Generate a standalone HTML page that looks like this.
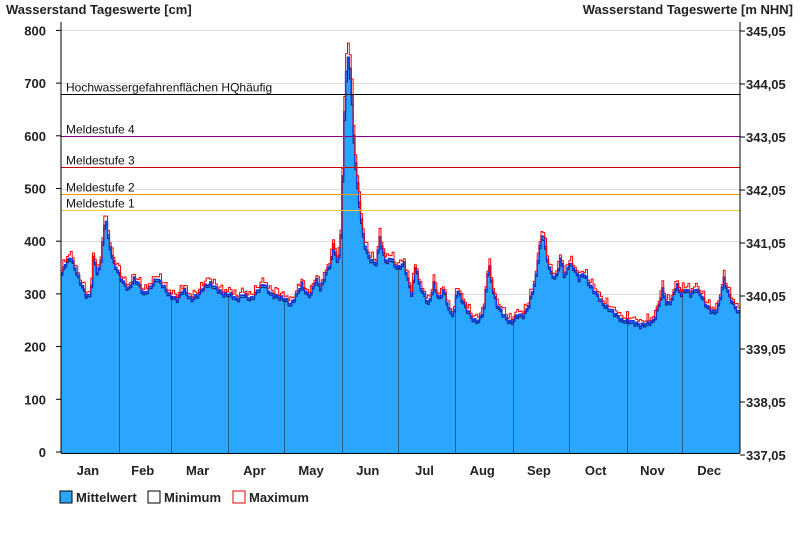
<!DOCTYPE html>
<html><head><meta charset="utf-8"><style>
html,body{margin:0;padding:0;background:#fff;width:800px;height:550px;overflow:hidden}
text{font-family:"Liberation Sans",Arial,sans-serif}
</style></head><body>
<svg id="s" width="800" height="550" xmlns="http://www.w3.org/2000/svg">
<text x="6" y="14" font-size="13" font-weight="bold" fill="#222">Wasserstand Tageswerte [cm]</text>
<text x="793" y="14" font-size="13" font-weight="bold" fill="#222" text-anchor="end">Wasserstand Tageswerte [m NHN]</text>
<g id="grid" stroke="#dcdcdc" stroke-width="1"></g>
<g id="data"></g>
<g id="thr"></g>
<line x1="61" y1="22" x2="61" y2="453" stroke="#000"/>
<line x1="740" y1="22" x2="740" y2="453" stroke="#000"/>
<line x1="61" y1="453.5" x2="740" y2="453.5" stroke="#000"/>
<g id="ax" font-size="13" font-weight="bold" fill="#222"></g>
<rect x="60" y="491" width="12" height="12" fill="#2aa6ff" stroke="#000"/>
<text x="76" y="502" font-size="13" font-weight="bold" fill="#222">Mittelwert</text>
<rect x="148" y="491" width="12" height="12" fill="#fff" stroke="#000"/>
<text x="164" y="502" font-size="13" font-weight="bold" fill="#222">Minimum</text>
<rect x="233" y="491" width="12" height="12" fill="#fff" stroke="#e00"/>
<text x="249" y="502" font-size="13" font-weight="bold" fill="#222">Maximum</text>
</svg>
<script>
var NS="http://www.w3.org/2000/svg";
function el(p,t,a,txt){var e=document.createElementNS(NS,t);for(var k in a)e.setAttribute(k,a[k]);if(txt!=null)e.textContent=txt;document.getElementById(p).appendChild(e);return e;}
function Y(v){return 452-v*0.527;}
for(var v=100;v<=800;v+=100){var yy=Math.round(Y(v))+0.5;el("grid","line",{x1:61,x2:740,y1:yy,y2:yy});}
for(var v=0;v<=800;v+=100){el("ax","text",{x:46,y:Y(v)+5,"text-anchor":"end"},v);el("ax","line",{x1:56,x2:61,y1:Y(v),y2:Y(v),stroke:"#000"});}
var rl=["345,05","344,05","343,05","342,05","341,05","340,05","339,05","338,05","337,05"];
for(var i=0;i<9;i++){var y=31+i*53;el("ax","text",{x:746,y:y+5},rl[i]);el("ax","line",{x1:740,x2:745,y1:y,y2:y,stroke:"#000"});}
var ppd=679/365;var ms=[0,31,59,90,120,151,181,212,243,273,304,334,365];
var mn=["Jan","Feb","Mar","Apr","May","Jun","Jul","Aug","Sep","Oct","Nov","Dec"];
for(var i=0;i<12;i++){var c=61+(ms[i]+ms[i+1])/2*ppd-2;el("ax","text",{x:c,y:475,"text-anchor":"middle","font-size":"13"},mn[i]);}
var kp=[[61,330],[67,360],[72,370],[80,330],[88,295],[92,300],[95,380],[98,340],[101,350],[104,400],[107,450],[110,400],[115,360],[120,340],[125,320],[130,310],[135,330],[140,320],[145,300],[150,310],[158,330],[163,320],[170,300],[178,290],[185,310],[192,290],[200,300],[205,315],[212,320],[218,310],[225,300],[232,300],[238,290],[245,300],[252,290],[260,310],[265,320],[272,300],[280,295],[287,290],[292,280],[298,300],[303,320],[308,300],[312,300],[317,330],[322,310],[327,340],[332,360],[335,400],[338,360],[341,380],[343,450],[345,620],[348,740],[350,750],[352,720],[355,600],[358,520],[362,450],[365,400],[370,370],[375,360],[378,360],[381,410],[384,380],[388,360],[392,370],[396,355],[400,350],[405,360],[410,320],[413,300],[417,360],[420,320],[425,300],[430,280],[435,320],[440,290],[445,310],[450,270],[455,260],[458,310],[463,290],[470,265],[475,250],[480,250],[485,270],[490,360],[494,310],[498,280],[505,260],[512,245],[518,260],[525,260],[530,280],[537,330],[540,380],[544,420],[548,370],[552,340],[557,330],[562,370],[566,330],[570,360],[575,350],[580,330],[585,340],[590,320],[598,300],[605,280],[612,270],[618,260],[623,250],[630,250],[637,245],[642,240],[648,245],[655,250],[660,280],[664,310],[668,280],[673,290],[678,320],[682,300],[687,310],[692,300],[697,310],[702,300],[707,280],[712,270],[716,265],[720,280],[725,330],[730,300],[735,280],[740,265]];
function val(x){for(var i=1;i<kp.length;i++){if(x<=kp[i][0]){var a=kp[i-1],b=kp[i];return a[1]+(b[1]-a[1])*(x-a[0])/(b[0]-a[0]);}}return kp[kp.length-1][1];}
var mean=[],mi=[],ma=[];
for(var d=0;d<365;d++){var x=61+(d+0.5)*ppd+1;var m=val(x)+Math.sin(d*2.3)*3;mean.push(m);var sp=Math.max(6,(m-250)*0.06);mi.push(m-sp*0.7);ma.push(m+sp*0.9+(Math.sin(d*1.7)>0.6?8:0));}
function step(arr){var p="";for(var d=0;d<365;d++){var x0=61+d*ppd,x1=61+(d+1)*ppd,y=Y(arr[d]).toFixed(1);p+=(d?"L":"M")+x0.toFixed(1)+","+y+"L"+x1.toFixed(1)+","+y;}return p;}
var pm=step(mean);
el("data","path",{d:pm+"L740,453L61,453Z",fill:"#2aa6ff"});
for(var i=1;i<12;i++){var x=Math.round(61+ms[i]*ppd)+0.5;el("data","line",{x1:x,x2:x,y1:Y(mean[ms[i]]),y2:453,stroke:"#1e5f8c","stroke-width":1});}
el("data","path",{d:step(mi),fill:"none",stroke:"#0a1a80","stroke-width":1});
el("data","path",{d:pm,fill:"none",stroke:"#1133dd","stroke-width":1.5});
el("data","path",{d:step(ma),fill:"none",stroke:"#ff0000","stroke-width":1});
var th=[[680,"#000","Hochwassergefahrenflächen HQhäufig"],[600,"#8b008b","Meldestufe 4"],[540,"#cc0000","Meldestufe 3"],[490,"#ff9900","Meldestufe 2"],[460,"#ffcc33","Meldestufe 1"]];
th.forEach(function(t){var y=Math.round(Y(t[0]))+0.5;el("thr","line",{x1:61,x2:740,y1:y,y2:y,stroke:t[1],"stroke-width":1});el("thr","text",{x:66,y:y-3,"font-size":"12",fill:"#111"},t[2]);});
</script>
</body></html>
